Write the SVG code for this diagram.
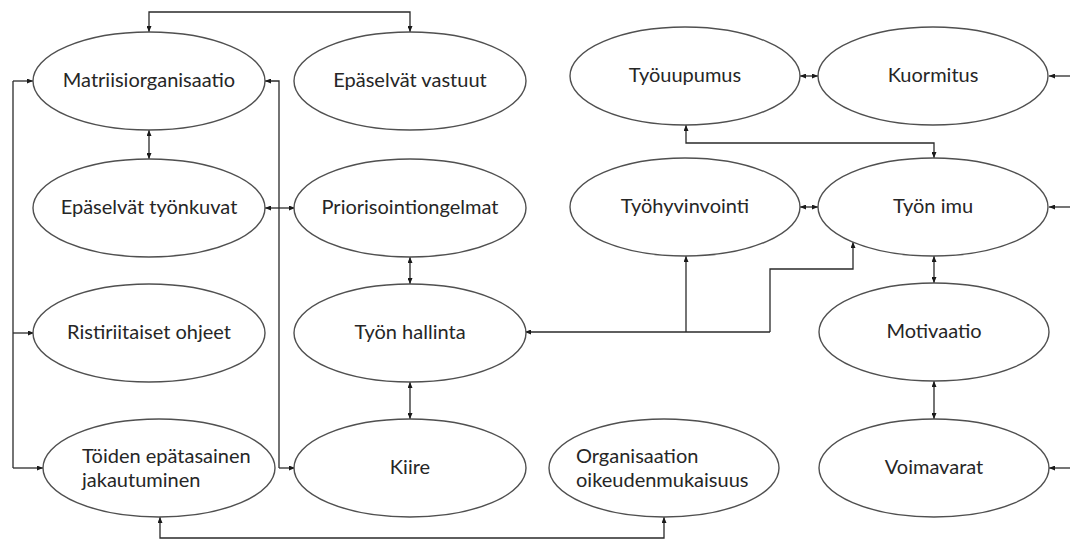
<svg xmlns="http://www.w3.org/2000/svg" width="1070" height="539" viewBox="0 0 1070 539">
  <defs>
    <marker id="ah" viewBox="0 0 6 5" refX="6" refY="2.5" markerWidth="6" markerHeight="5" markerUnits="userSpaceOnUse" orient="auto-start-reverse">
      <path d="M0,0 L6,2.5 L0,5 z" fill="#1a1a1a"/>
    </marker>
    <style>
      .node ellipse { fill: #ffffff; stroke: #505050; stroke-width: 1.4; }
      .node text { font-family: Lato, "Open Sans", "Liberation Sans", sans-serif; font-size: 20px; fill: #262626; }
      .c { text-anchor: middle; }
      .conn path { fill: none; stroke: #2a2a2a; stroke-width: 1.3; }
      .both { marker-start: url(#ah); marker-end: url(#ah); }
      .end { marker-end: url(#ah); }
    </style>
  </defs>

  <rect width="1070" height="539" fill="#ffffff"/>

  <!-- connectors -->
  <g id="connectors" class="conn">
    <!-- top link between Matriisiorganisaatio and Epäselvät vastuut -->
    <path class="both" d="M149,32 V12 H410 V32"/>
    <!-- vertical pairs -->
    <path class="both" d="M149,130 V159"/>
    <path class="both" d="M410,257 V284"/>
    <path class="both" d="M410,382 V419"/>
    <path class="both" d="M265,208 H295"/>
    <!-- left bus -->
    <path class="end" d="M13,81 H33"/>
    <path d="M13,81 V468"/>
    <path class="end" d="M13,333 H34"/>
    <path class="end" d="M13,468 H43"/>
    <!-- middle bus -->
    <path class="end" d="M279,468 V81 H265"/>
    <path class="end" d="M279,468 H295"/>
    <!-- bottom link -->
    <path class="both" d="M160,517 V538 H664 V517"/>
    <!-- work control to wellbeing and engagement -->
    <path class="end" d="M770,332 H525"/>
    <path class="end" d="M686,332 V256"/>
    <path class="end" d="M770,332 V269 H853 V242"/>
    <!-- right group -->
    <path class="both" d="M686,125 V143 H934 V158"/>
    <path class="both" d="M800,76 H818"/>
    <path class="both" d="M800,207 H818"/>
    <path class="both" d="M934,256 V283"/>
    <path class="both" d="M934,381 V419"/>
    <!-- incoming from the right edge -->
    <path class="end" d="M1070,76 H1049"/>
    <path class="end" d="M1070,207 H1049"/>
    <path class="end" d="M1070,468 H1049"/>
  </g>

  <!-- left column -->
  <g id="matriisiorganisaatio" class="node">
    <ellipse cx="149" cy="81" rx="116" ry="49"/>
    <text class="c" x="149" y="87">Matriisiorganisaatio</text>
  </g>
  <g id="tyonkuvat" class="node">
    <ellipse cx="149" cy="208" rx="116" ry="49"/>
    <text class="c" x="149" y="214">Epäselvät työnkuvat</text>
  </g>
  <g id="ohjeet" class="node">
    <ellipse cx="149" cy="333" rx="116" ry="49"/>
    <text class="c" x="149" y="339">Ristiriitaiset ohjeet</text>
  </g>
  <g id="jakautuminen" class="node">
    <ellipse cx="159" cy="468" rx="116" ry="49"/>
    <text x="82" y="463">Töiden epätasainen</text>
    <text x="82" y="487">jakautuminen</text>
  </g>

  <!-- middle column -->
  <g id="vastuut" class="node">
    <ellipse cx="410" cy="81" rx="116" ry="49"/>
    <text class="c" x="410" y="87">Epäselvät vastuut</text>
  </g>
  <g id="priorisointi" class="node">
    <ellipse cx="410" cy="208" rx="116" ry="49"/>
    <text class="c" x="410" y="214">Priorisointiongelmat</text>
  </g>
  <g id="hallinta" class="node">
    <ellipse cx="410" cy="333" rx="116" ry="49"/>
    <text class="c" x="410" y="339">Työn hallinta</text>
  </g>
  <g id="kiire" class="node">
    <ellipse cx="410" cy="468" rx="116" ry="49"/>
    <text class="c" x="410" y="474">Kiire</text>
  </g>

  <g id="oikeudenmukaisuus" class="node">
    <ellipse cx="664" cy="468" rx="115" ry="49"/>
    <text x="576" y="463">Organisaation</text>
    <text x="576" y="487">oikeudenmukaisuus</text>
  </g>

  <!-- right group -->
  <g id="tyouupumus" class="node">
    <ellipse cx="685" cy="76" rx="115" ry="49"/>
    <text class="c" x="685" y="82">Työuupumus</text>
  </g>
  <g id="kuormitus" class="node">
    <ellipse cx="933" cy="76" rx="115" ry="49"/>
    <text class="c" x="933" y="82">Kuormitus</text>
  </g>
  <g id="tyohyvinvointi" class="node">
    <ellipse cx="685" cy="207" rx="115" ry="49"/>
    <text class="c" x="685" y="213">Työhyvinvointi</text>
  </g>
  <g id="tyon-imu" class="node">
    <ellipse cx="933" cy="207" rx="115" ry="49"/>
    <text class="c" x="933" y="213">Työn imu</text>
  </g>
  <g id="motivaatio" class="node">
    <ellipse cx="934" cy="332" rx="115" ry="49"/>
    <text class="c" x="934" y="338">Motivaatio</text>
  </g>
  <g id="voimavarat" class="node">
    <ellipse cx="934" cy="468" rx="115" ry="49"/>
    <text class="c" x="934" y="474">Voimavarat</text>
  </g>
</svg>
